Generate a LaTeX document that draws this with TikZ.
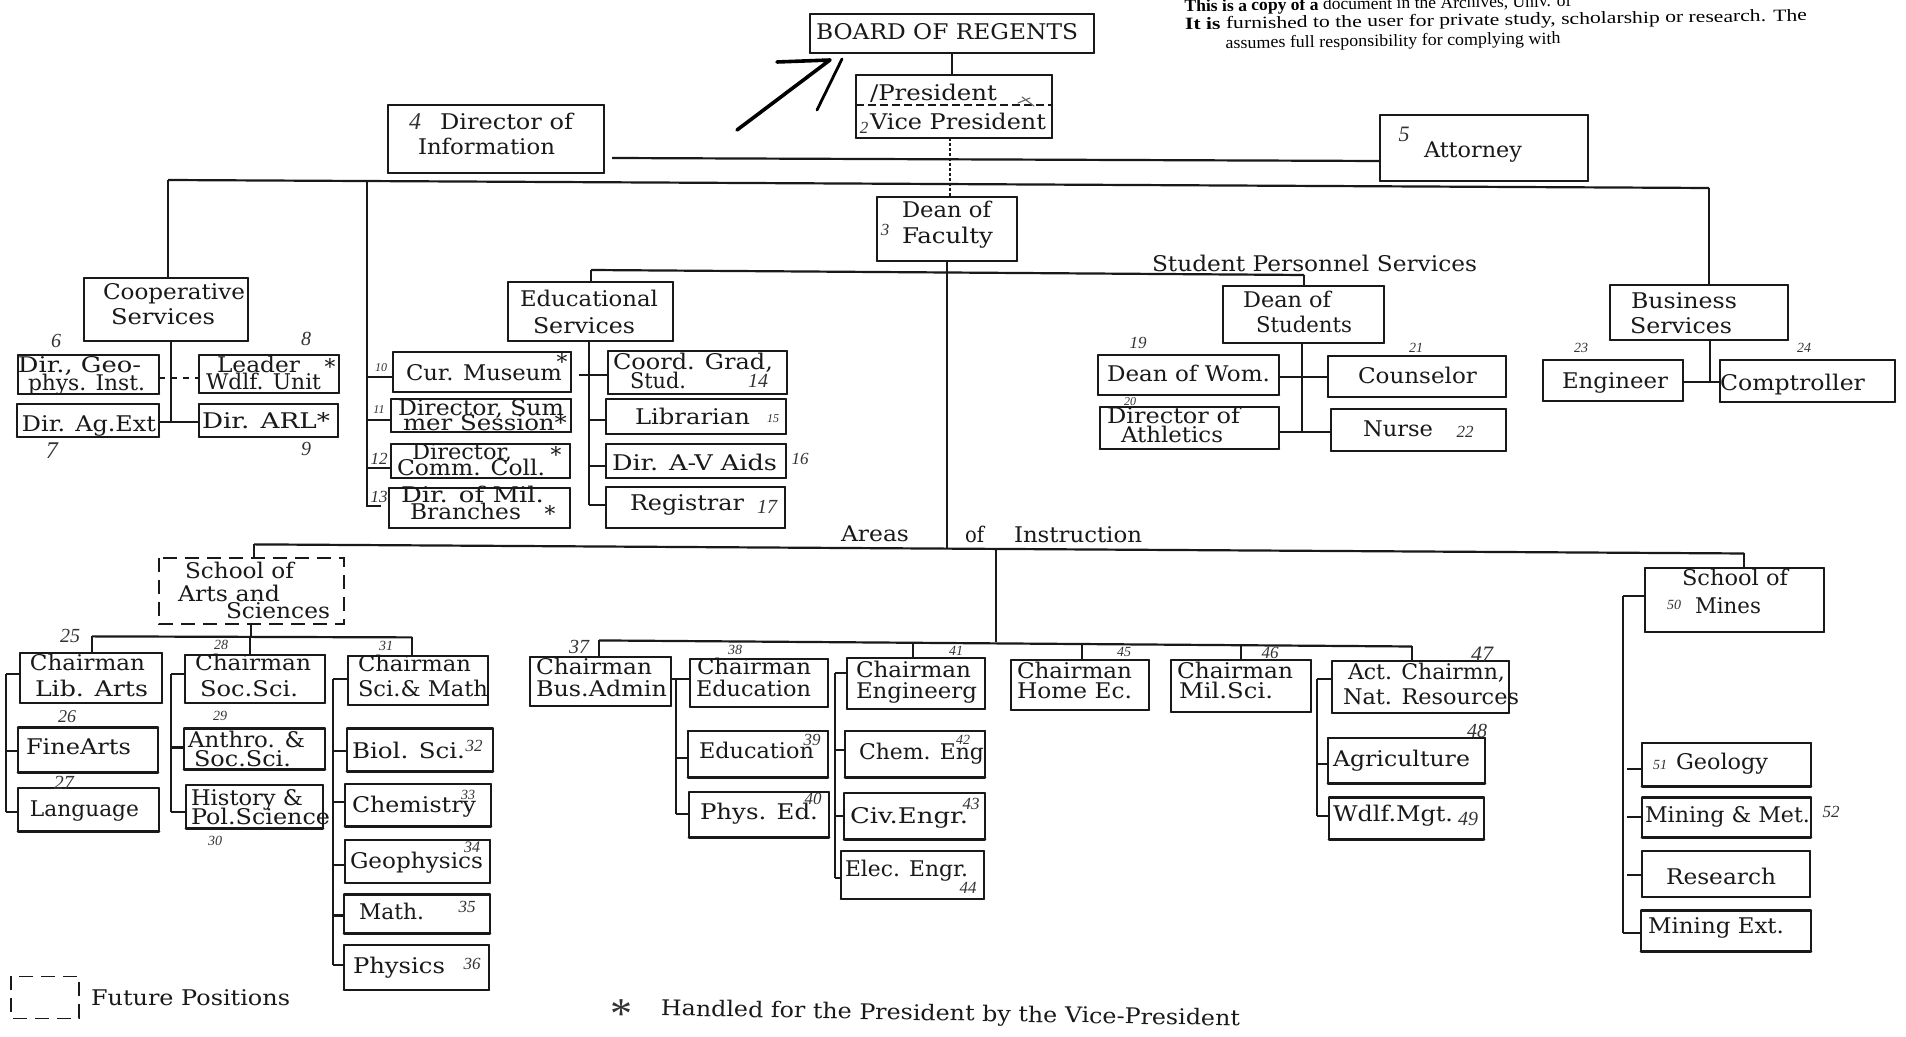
\documentclass[tikz,border=0pt]{standalone}
\usepackage{graphicx}
\usepackage{fontspec}
\setmainfont{DejaVu Serif}
\newfontfamily\notef{Liberation Serif}
\newsavebox\fitbox
\newcount\tcnt
\newcount\ncnt
\newcommand\fitw[2]{\sbox\fitbox{#2}\pgfmathsetmacro\fitr{(#1)*0.5pt/\wd\fitbox}\scalebox{\fitr}[1]{\usebox\fitbox}}
\newcommand\tx[4]{\global\advance\tcnt by 1\relax
  \node[txt] (t\the\tcnt) at ({(#1+#2)/2},#3) {\fitw{#2-#1}{#4}};}
\newcommand\txr[5]{\global\advance\tcnt by 1\relax
  \node[txt,rotate=#4] (t\the\tcnt) at ({(#1+#2)/2},#3) {\fitw{#2-#1}{#5}};}
\newcommand\nm[3]{\global\advance\ncnt by 1\relax
  \node[num] (n\the\ncnt) at (#1,#2) {#3};}
\newcommand\bx[5]{\node[boxn,minimum width={(#4-#2)*0.5pt},minimum height={(#5-#3)*0.5pt}] (#1) at ({(#2+#4)/2},{(#3+#5)/2}) {};
  \draw[hl] (#1.north west) -- (#1.north east);
  \draw[hl,line width=1.3pt] (#1.south west) -- (#1.south east);
  \draw[vl] (#1.north west) -- (#1.south west);
  \draw[vl] (#1.north east) -- (#1.south east);}
\newcommand\bxd[5]{\node[boxn,minimum width={(#4-#2)*0.5pt},minimum height={(#5-#3)*0.5pt}] (#1) at ({(#2+#4)/2},{(#3+#5)/2}) {};
  \draw[dashedge] (#1.north west) rectangle (#1.south east);}
\tikzset{
  boxn/.style={rectangle,inner sep=0pt,outer sep=0pt},
  txt/.style={inner sep=0pt,outer sep=0pt,anchor=mid,yshift=-1pt,font=\fontsize{10.8}{12}\selectfont,text=black!90},
  num/.style={inner sep=0pt,outer sep=0pt,font=\notef\itshape\fontsize{8.5}{10}\selectfont,text=black!80},
  hl/.style={line width=1.15pt,black!90,line cap=round},
  vl/.style={line width=0.55pt,black!90,line cap=round},
  ch/.style={line width=1.1pt,black!90},
  cv/.style={line width=0.55pt,black!90},
  dashedge/.style={line width=0.7pt,black!90,dash pattern=on 7pt off 4pt},
  pen/.style={line width=1.6pt,black,line cap=round},
  lower/.style={y=-0.5055pt,yshift=3.3pt}
}
\begin{document}
\begin{tikzpicture}[x=0.5pt,y=-0.5pt]
\useasboundingbox (0,0) rectangle (1906,1037);
\fill[white] (0,0) rectangle (1906,1037);
% top note
\node[inner sep=0pt,anchor=mid,rotate=0.8,font=\notef\fontsize{8.6}{10}\selectfont] (note1) at (1378,4) {\fitw{387}{\textbf{This is a copy of a} document in the Archives, Univ. of}};
\node[inner sep=0pt,anchor=mid,rotate=0.8,font=\notef\fontsize{8.6}{10}\selectfont] (note2) at (1496,20) {\fitw{622}{\textbf{It is} furnished to the user for private study, scholarship or research. The}};
\node[inner sep=0pt,anchor=mid,rotate=0.8,font=\notef\fontsize{8.6}{10}\selectfont] (note3) at (1393,41) {\fitw{335}{assumes full responsibility for complying with}};
% boxes, upper part
\bx{board}{810}{14}{1094}{53}
\bx{pres}{856}{75}{1052}{138}
\bx{dir}{388}{105}{604}{173}
\bx{att}{1380}{115}{1588}{181}
\bx{dean}{877}{197}{1017}{261}
\bx{coop}{84}{278}{248}{341}
\bx{edu}{508}{282}{673}{341}
\bx{dstu}{1223}{286}{1384}{343}
\bx{bus}{1610}{285}{1788}{340}
\bx{geo}{18}{355}{159}{394}
\bx{agext}{17}{404}{159}{437}
\bx{wolf}{199}{355}{339}{393}
\bx{arl}{199}{404}{338}{437}
\bx{mus}{393}{352}{571}{392}
\bx{summ}{391}{399}{571}{432}
\bx{comm}{391}{444}{570}{478}
\bx{mil}{389}{488}{570}{528}
\bx{grad}{608}{351}{787}{394}
\bx{lib}{606}{399}{786}{434}
\bx{av}{606}{444}{786}{478}
\bx{reg}{606}{487}{785}{528}
\bx{wom}{1098}{355}{1279}{395}
\bx{ath}{1100}{407}{1279}{449}
\bx{couns}{1328}{356}{1506}{397}
\bx{nurse}{1331}{409}{1506}{451}
\bx{engr}{1543}{360}{1683}{401}
\bx{compt}{1720}{360}{1895}{402}
% president divider
\draw[line width=1.1pt,black!90,dash pattern=on 4pt off 2pt] (pres.west |- 0,105) -- (pres.east |- 0,105);
% scribble on the president box
\coordinate (sa) at (1018,103);
\coordinate (sb) at (1030,98);
\coordinate (sc) at (1022,97);
\coordinate (sd) at (1034,106);
\draw[vl,black!60] (sa) -- (sb);
\draw[vl,black!60] (sc) -- (sd);
% pen strokes
\coordinate (pa) at (777,62);
\coordinate (pb) at (830,60);
\coordinate (pc) at (737,130);
\coordinate (pd) at (842,59);
\coordinate (pe1) at (817,110);
\draw[pen,line width=1.8pt,line join=round] (pa) -- (pb) -- (pc);
\draw[pen,line width=1.4pt] (pd) -- (pe1);
% upper trunk
\coordinate (hL) at (168,180);
\coordinate (hM) at (367,181);
\coordinate (hR) at (1709,188);
\coordinate (dl) at (612,158);
\draw[cv] (board.south) -- (board.south |- pres.north);
\draw[cv,dash pattern=on 1.5pt off 1pt] (pres.south -| 950,0) -- (dean.north -| 950,0);
\draw[ch] (dl) -- (att.west |- 0,161);
\draw[ch] (hL) -- (hR);
\draw[cv] (hL) -- (coop.north -| hL);
\draw[cv] (hM) -- (367,507);
\draw[cv] (hR) -- (bus.north -| hR);
% dean branches
\coordinate (eL) at (591,270);
\coordinate (eR) at (1304,275);
\draw[ch] (eL) -- (eR);
\draw[cv] (eL) -- (edu.north -| eL);
\draw[cv] (eR) -- (dstu.north -| eR);
\draw[cv] (dean.south -| 947,0) -- (947,548);
% cooperative
\draw[cv] (coop.south -| 171,0) -- (171,422);
\draw[cv,dashed] (geo.east |- 0,378) -- (wolf.west |- 0,378);
\draw[ch] (agext.east |- 0,422) -- (arl.west |- 0,422);
% educational
\draw[ch] (367,377) -- (mus.west |- 0,377);
\draw[ch] (367,420) -- (summ.west |- 0,420);
\draw[ch] (367,468) -- (comm.west |- 0,468);
\draw[ch] (367,506) -- (381,506);
\draw[cv] (edu.south -| 589,0) -- (589,505);
\draw[ch] (579,375) -- (grad.west |- 0,375);
\draw[ch] (589,420) -- (lib.west |- 0,420);
\draw[ch] (589,466) -- (av.west |- 0,466);
\draw[ch] (589,505) -- (reg.west |- 0,505);
% students
\draw[cv] (dstu.south -| 1302,0) -- (1302,432);
\draw[ch] (wom.east |- 0,377) -- (couns.west |- 0,377);
\draw[ch] (ath.east |- 0,432) -- (nurse.west |- 0,432);
% business
\draw[cv] (bus.south -| 1710,0) -- (1710,382);
\draw[ch] (engr.east |- 0,382) -- (compt.west |- 0,382);
% texts, upper part
\tx{816}{1078}{32}{BOARD OF REGENTS}
\tx{870}{997}{93}{/President}
\tx{870}{1046}{122}{Vice President}
\tx{440}{573}{122}{Director of}
\tx{418}{555}{147}{Information}
\tx{1424}{1522}{150}{Attorney}
\tx{902}{991}{210}{Dean of}
\tx{902}{993}{236}{Faculty}
\tx{1152}{1477}{264}{Student Personnel Services}
\tx{103}{245}{292}{Cooperative}
\tx{111}{215}{317}{Services}
\tx{520}{658}{299}{Educational}
\tx{533}{635}{326}{Services}
\tx{1243}{1331}{300}{Dean of}
\tx{1256}{1352}{325}{Students}
\tx{1631}{1737}{301}{Business}
\tx{1630}{1732}{326}{Services}
\tx{18}{141}{365}{Dir., Geo-}
\tx{28}{145}{383}{phys. Inst.}
\tx{22}{156}{424}{Dir. Ag.Ext}
\tx{217}{300}{365}{Leader}
\tx{206}{321}{382}{Wdlf. Unit}
\node[txt] (wstar) at (330,367) {*};
\tx{202}{330}{421}{Dir. ARL*}
\tx{406}{562}{373}{Cur. Museum}
\node[txt] (mstar) at (562,362) {*};
\tx{398}{564}{408}{Director, Sum}
\tx{403}{567}{423}{mer Session*}
\tx{412}{512}{452}{Director,}
\tx{397}{545}{468}{Comm. Coll.}
\node[txt] (cstar) at (556,455) {*};
\tx{401}{544}{495}{Dir. of Mil.}
\tx{410}{521}{512}{Branches}
\node[txt] (bstar) at (550,514) {*};
\tx{613}{773}{362}{Coord. Grad,}
\tx{630}{686}{381}{Stud.}
\tx{635}{750}{417}{Librarian}
\tx{612}{777}{463}{Dir. A-V Aids}
\tx{630}{744}{503}{Registrar}
\tx{1107}{1270}{374}{Dean of Wom.}
\tx{1107}{1240}{416}{Director of}
\tx{1121}{1223}{435}{Athletics}
\tx{1358}{1477}{376}{Counselor}
\tx{1363}{1433}{429}{Nurse}
\tx{1562}{1668}{381}{Engineer}
\tx{1720}{1865}{383}{Comptroller}
\tx{841}{909}{534}{Areas}
\tx{965}{984}{535}{of}
\tx{1014}{1142}{535}{Instruction}
% handwritten numbers, upper part
\nm{864}{128}{2}
\nm{415}{122}{\fontsize{12}{12}\selectfont 4}
\nm{1404}{134}{\fontsize{11}{11}\selectfont 5}
\nm{885}{230}{3}
\nm{56}{341}{\fontsize{10}{10}\selectfont 6}
\nm{52}{451}{\fontsize{12}{12}\selectfont 7}
\nm{306}{339}{\fontsize{10}{10}\selectfont 8}
\nm{306}{449}{\fontsize{10}{10}\selectfont 9}
\nm{381}{368}{\fontsize{6}{6}\selectfont 10}
\nm{379}{410}{\fontsize{6}{6}\selectfont 11}
\nm{379}{459}{12}
\nm{379}{497}{13}
\nm{758}{381}{\fontsize{10}{10}\selectfont 14}
\nm{773}{419}{\fontsize{6}{6}\selectfont 15}
\nm{800}{459}{16}
\nm{767}{507}{\fontsize{10}{10}\selectfont 17}
\nm{1138}{343}{19}
\nm{1130}{402}{\fontsize{6}{6}\selectfont 20}
\nm{1416}{348}{\fontsize{7}{7}\selectfont 21}
\nm{1465}{432}{22}
\nm{1581}{348}{\fontsize{7}{7}\selectfont 23}
\nm{1804}{348}{\fontsize{7}{7}\selectfont 24}
%
% lower part
\begin{scope}[lower]
\bxd{arts}{159}{558}{344}{624}
\bx{libarts}{20}{652}{162}{702}
\bx{fine}{18}{726}{158}{771}
\bx{lang}{18}{786}{159}{829}
\bx{soc}{185}{654}{325}{702}
\bx{anth}{184}{727}{325}{768}
\bx{hist}{186}{783}{323}{826}
\bx{sci}{348}{655}{488}{704}
\bx{biol}{347}{727}{493}{770}
\bx{chem}{345}{782}{491}{824}
\bx{gphys}{345}{837}{490}{880}
\bx{math}{344}{891}{490}{930}
\bx{phys}{344}{941}{489}{986}
\bx{busad}{530}{656}{671}{705}
\bx{ched}{690}{658}{828}{706}
\bx{educ}{688}{729}{828}{776}
\bx{pe}{689}{790}{829}{835}
\bx{cheng}{847}{657}{985}{708}
\bx{cheme}{845}{729}{985}{776}
\bx{civ}{844}{791}{985}{837}
\bx{elec}{841}{848}{984}{896}
\bx{home}{1011}{659}{1149}{709}
\bx{milsci}{1171}{659}{1311}{711}
\bx{natres}{1332}{660}{1509}{712}
\bx{agri}{1328}{736}{1485}{782}
\bx{wdlf}{1329}{795}{1484}{837}
\bx{mines}{1645}{568}{1824}{632}
\bx{geol}{1642}{741}{1811}{785}
\bx{mmet}{1642}{795}{1811}{835}
\bx{rsch}{1642}{848}{1810}{894}
\bx{mext}{1641}{907}{1811}{948}
\bxd{future}{11}{972}{79}{1014}
% areas
\coordinate (aL) at (254,545);
\coordinate (aR) at (1744,554);
\draw[ch] (aL) -- (aR);
\draw[cv] (aL) -- (arts.north -| aL);
\draw[cv] (aR) -- (mines.north -| aR);
\coordinate (bL) at (599,640);
\coordinate (bR) at (1412,646);
\draw[cv] (996,550) -- (996,642);
\draw[ch] (bL) -- (bR);
\draw[cv] (bL) -- (busad.north -| bL);
\draw[cv] (913,642) -- (cheng.north -| 913,0);
\draw[cv] (1082,644) -- (home.north -| 1082,0);
\draw[cv] (1241,645) -- (milsci.north -| 1241,0);
\draw[cv] (bR) -- (natres.north -| bR);
% arts
\coordinate (cL) at (92,636);
\coordinate (cR) at (412,637);
\draw[cv] (arts.south -| 251,0) -- (251,636);
\draw[ch] (cL) -- (cR);
\draw[cv] (cL) -- (libarts.north -| cL);
\draw[cv] (250,636) -- (soc.north -| 250,0);
\draw[cv] (cR) -- (sci.north -| cR);
% brackets
\draw[cv] (6,673) -- (6,810);
\draw[ch] (6,673) -- (libarts.west |- 0,673);
\draw[ch] (6,749) -- (fine.west |- 0,749);
\draw[ch] (6,810) -- (lang.west |- 0,810);
\draw[cv] (171,673) -- (171,810);
\draw[ch] (171,673) -- (soc.west |- 0,673);
\draw[ch] (171,746) -- (anth.west |- 0,746);
\draw[ch] (171,810) -- (hist.west |- 0,810);
\draw[cv] (333,678) -- (333,961);
\draw[ch] (333,678) -- (sci.west |- 0,678);
\draw[ch] (333,749) -- (biol.west |- 0,749);
\draw[ch] (333,800) -- (chem.west |- 0,800);
\draw[ch] (333,862) -- (gphys.west |- 0,862);
\draw[ch] (333,912) -- (math.west |- 0,912);
\draw[ch] (333,961) -- (phys.west |- 0,961);
\draw[cv] (676,678) -- (676,812);
\draw[ch] (busad.east |- 0,678) -- (ched.west |- 0,678);
\draw[ch] (676,756) -- (educ.west |- 0,756);
\draw[ch] (676,812) -- (pe.west |- 0,812);
\draw[cv] (835,672) -- (835,875);
\draw[ch] (835,672) -- (cheng.west |- 0,672);
\draw[ch] (835,748) -- (cheme.west |- 0,748);
\draw[ch] (835,814) -- (civ.west |- 0,814);
\draw[ch] (835,875) -- (elec.west |- 0,875);
\draw[cv] (1317,678) -- (1317,814);
\draw[ch] (1317,678) -- (natres.west |- 0,678);
\draw[ch] (1317,762) -- (agri.west |- 0,762);
\draw[ch] (1317,814) -- (wdlf.west |- 0,814);
\draw[cv] (1623,596) -- (1623,929);
\draw[ch] (1623,596) -- (mines.west |- 0,596);
\draw[ch] (1627,767) -- (geol.west |- 0,767);
\draw[ch] (1627,815) -- (mmet.west |- 0,815);
\draw[ch] (1627,872) -- (rsch.west |- 0,872);
\draw[ch] (1623,929) -- (mext.west |- 0,929);
% texts
\tx{185}{294}{572}{School of}
\tx{178}{280}{594}{Arts and}
\tx{226}{330}{611}{Sciences}
\tx{30}{145}{663}{Chairman}
\tx{35}{148}{688}{Lib. Arts}
\tx{26}{131}{746}{FineArts}
\tx{30}{139}{807}{Language}
\tx{195}{311}{663}{Chairman}
\tx{200}{298}{688}{Soc.Sci.}
\tx{188}{305}{739}{Anthro. \&}
\tx{194}{291}{758}{Soc.Sci.}
\tx{191}{303}{796}{History \&}
\tx{191}{330}{815}{Pol.Science}
\tx{358}{471}{664}{Chairman}
\tx{358}{488}{688}{Sci.\& Math}
\tx{352}{465}{750}{Biol. Sci.}
\tx{352}{476}{803}{Chemistry}
\tx{350}{483}{858}{Geophysics}
\tx{359}{424}{909}{Math.}
\tx{353}{445}{962}{Physics}
\tx{536}{652}{667}{Chairman}
\tx{536}{667}{688}{Bus.Admin}
\tx{697}{811}{667}{Chairman}
\tx{696}{811}{688}{Education}
\tx{699}{814}{750}{Education}
\tx{700}{818}{810}{Phys. Ed.}
\tx{856}{971}{670}{Chairman}
\tx{856}{977}{690}{Engineerg}
\tx{859}{984}{751}{Chem. Eng}
\tx{850}{968}{814}{Civ.Engr.}
\tx{845}{968}{866}{Elec. Engr.}
\tx{1017}{1132}{671}{Chairman}
\tx{1017}{1132}{690}{Home Ec.}
\tx{1177}{1293}{671}{Chairman}
\tx{1179}{1273}{690}{Mil.Sci.}
\tx{1348}{1505}{672}{Act. Chairmn,}
\tx{1343}{1519}{696}{Nat. Resources}
\tx{1333}{1470}{758}{Agriculture}
\tx{1333}{1453}{812}{Wdlf.Mgt.}
\tx{1682}{1788}{579}{School of}
\tx{1695}{1761}{606}{Mines}
\tx{1676}{1768}{761}{Geology}
\tx{1645}{1810}{813}{Mining \& Met.}
\tx{1666}{1776}{874}{Research}
\tx{1648}{1784}{923}{Mining Ext.}
\tx{91}{290}{994}{Future Positions}
\txr{661}{1240}{1009}{-1}{Handled for the President by the Vice-President}
\node[font=\notef\fontsize{22}{22}\selectfont,inner sep=0pt,text=black!80] (legstar) at (621,1010) {*};
% handwritten numbers
\nm{70}{636}{\fontsize{10}{10}\selectfont 25}
\nm{67}{715}{\fontsize{9}{9}\selectfont 26}
\nm{64}{781}{\fontsize{10}{10}\selectfont 27}
\nm{221}{644}{\fontsize{7}{7}\selectfont 28}
\nm{220}{715}{\fontsize{7}{7}\selectfont 29}
\nm{215}{838}{\fontsize{7}{7}\selectfont 30}
\nm{386}{645}{\fontsize{7}{7}\selectfont 31}
\nm{474}{744}{32}
\nm{468}{793}{\fontsize{7}{7}\selectfont 33}
\nm{472}{845}{\fontsize{8}{8}\selectfont 34}
\nm{467}{904}{35}
\nm{472}{960}{36}
\nm{579}{646}{\fontsize{10}{10}\selectfont 37}
\nm{735}{649}{\fontsize{7}{7}\selectfont 38}
\nm{812}{738}{39}
\nm{813}{797}{40}
\nm{956}{650}{\fontsize{7}{7}\selectfont 41}
\nm{963}{738}{\fontsize{7}{7}\selectfont 42}
\nm{971}{802}{43}
\nm{968}{885}{44}
\nm{1124}{651}{\fontsize{7}{7}\selectfont 45}
\nm{1270}{652}{46}
\nm{1482}{654}{\fontsize{11}{11}\selectfont 47}
\nm{1477}{730}{\fontsize{10}{10}\selectfont 48}
\nm{1468}{817}{\fontsize{10}{10}\selectfont 49}
\nm{1674}{605}{\fontsize{7}{7}\selectfont 50}
\nm{1660}{763}{\fontsize{7}{7}\selectfont 51}
\nm{1831}{810}{52}
\end{scope}
\end{tikzpicture}
\end{document}
